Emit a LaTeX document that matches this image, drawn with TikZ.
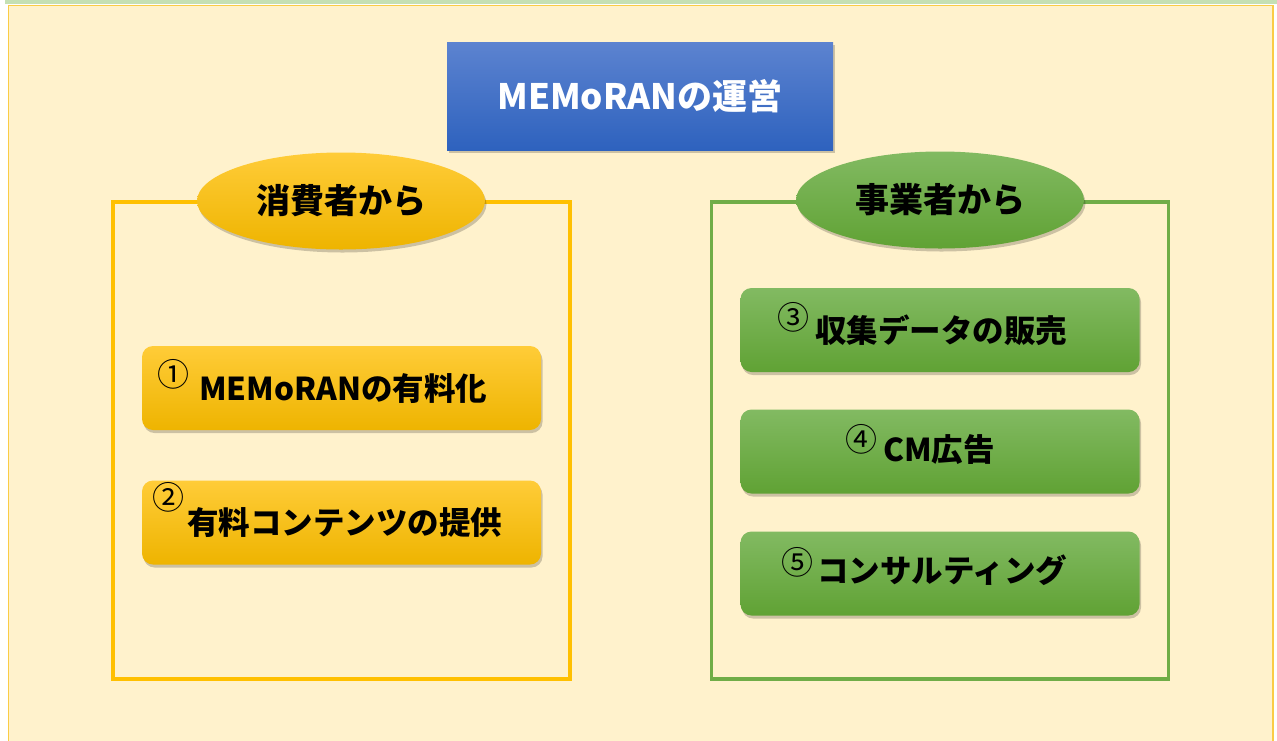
\documentclass[tikz,border=0pt]{standalone}
\usepackage{fontspec}
\setmainfont{Noto Sans CJK JP}
\newfontfamily\circfont{Noto Sans CJK JP}
\usetikzlibrary{shadows,shapes.geometric}
\definecolor{cream}{RGB}{255,242,204}
\definecolor{stripe}{RGB}{197,224,180}
\definecolor{outerline}{RGB}{250,204,70}
\definecolor{bluetop}{RGB}{92,131,208}
\definecolor{bluebot}{RGB}{46,98,190}
\definecolor{goldtop}{RGB}{255,204,56}
\definecolor{goldbot}{RGB}{238,180,0}
\definecolor{greentop}{RGB}{130,186,98}
\definecolor{greenbot}{RGB}{96,162,52}
\definecolor{yframe}{RGB}{255,192,0}
\definecolor{gframe}{RGB}{112,173,71}
\tikzset{
  softshadow/.style={drop shadow={shadow xshift=1.5pt, shadow yshift=-3pt, fill=black, opacity=0.2}},
  titlebox/.style={rectangle, minimum width=386pt, minimum height=108pt, top color=bluetop, bottom color=bluebot, softshadow, text=white, font=\fontsize{35}{40}\selectfont\bfseries},
  headell/.style={ellipse, minimum width=288pt, minimum height=97pt, inner sep=0pt, softshadow, font=\fontsize{34}{40}\selectfont\bfseries},
  goldfill/.style={top color=goldtop, bottom color=goldbot},
  greenfill/.style={top color=greentop, bottom color=greenbot},
  itembox/.style={rectangle, rounded corners=11pt, minimum width=399pt, minimum height=84pt, softshadow},
  frame/.style={rectangle, line width=3.5pt, minimum width=457pt, minimum height=477pt},
  itemtext/.style={anchor=base west, inner sep=0pt, font=\fontsize{31.5}{36}\selectfont\bfseries},
  circnum/.style={anchor=center, inner sep=0pt, font=\circfont\fontsize{32}{36}\selectfont},
}
\begin{document}
\begin{tikzpicture}[x=1pt,y=1pt]
\useasboundingbox (0,0) rectangle (1277,-740);
\fill[white] (0,0) rectangle (1277,-740);
\fill[stripe] (5,0) rectangle (1277,-3.5);
\draw[outerline, line width=1.5pt, fill=cream] (8.5,-5.5) rectangle (1273,-750);

% frames
\node[frame, draw=yframe] (lframe) at (341.5,-440.5) {};
\node[frame, draw=gframe] (rframe) at (940,-440.5) {};

% title
\node[titlebox] (title) at (640,-96) {MEMoRANの運営};

% headers
\node[headell, goldfill] (lhead) at (341,-201) {消費者から};
\node[headell, greenfill] (rhead) at (940,-200) {事業者から};

% left items
\node[itembox, goldfill] (b1) at (341.5,-388) {};
\node[itembox, goldfill] (b2) at (341.5,-522.5) {};
% right items
\node[itembox, greenfill] (b3) at (940,-330) {};
\node[itembox, greenfill] (b4) at (940,-451.5) {};
\node[itembox, greenfill] (b5) at (940,-573.5) {};

% texts
\node[circnum] (n1) at (173,-374) {①};
\node[itemtext] (t1) at (199,-400) {MEMoRANの有料化};
\node[circnum] (n2) at (168,-497) {②};
\node[itemtext] (t2) at (187,-534) {有料コンテンツの提供};
\node[circnum] (n3) at (793,-317) {③};
\node[itemtext] (t3) at (815,-342) {収集データの販売};
\node[circnum] (n4) at (861,-439) {④};
\node[itemtext] (t4) at (883,-461) {CM広告};
\node[circnum] (n5) at (797,-562) {⑤};
\node[itemtext] (t5) at (817,-582) {コンサルティング};
\end{tikzpicture}
\end{document}
